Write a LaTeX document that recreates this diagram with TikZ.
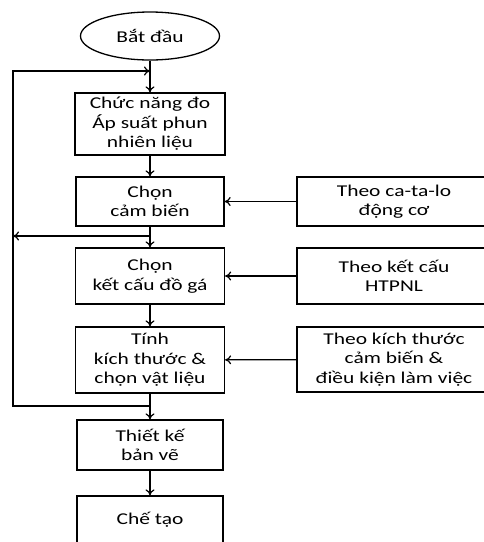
\documentclass[tikz,border=0pt]{standalone}
\usepackage{fontspec}
\setmainfont{Carlito}[FakeStretch=1.3]
\usepackage{tikz}
\usetikzlibrary{arrows.meta, positioning, shapes.geometric}

\tikzset{
  stepbox/.style={draw, rectangle, line width=1.3pt, align=center,
    inner sep=0pt, font=\fontsize{16.5}{19.5}\selectfont},
  arr/.style={-{To[length=6pt,width=9pt]}, line width=1.2pt},
}

\begin{document}
\begin{tikzpicture}[x=1pt, y=-1pt, line join=miter]
        \clip (0,0) rectangle (484,542);
        % main column
        \node[ellipse, draw, line width=1.3pt, minimum width=139pt, minimum height=48pt,
          inner sep=0pt, font=\fontsize{16.5}{19.5}\selectfont] (start) at (150,36) {Bắt đầu};
        \node[stepbox, minimum width=150pt, minimum height=62pt] (chucnang) at (150,124)
          {Chức năng đo\\Áp suất phun\\nhiên liệu};
        \node[stepbox, minimum width=148pt, minimum height=49pt] (camben) at (150,201.5)
          {Chọn\\cảm biến};
        \node[stepbox, minimum width=149pt, minimum height=56pt] (ketcau) at (150,276)
          {Chọn\\kết cấu đồ gá};
        \node[stepbox, minimum width=149pt, minimum height=66pt] (tinh) at (150,360)
          {Tính\\kích thước \&\\chọn vật liệu};
        \node[stepbox, minimum width=146pt, minimum height=50pt] (thietke) at (150,445)
          {Thiết kế\\bản vẽ};
        \node[stepbox, minimum width=146pt, minimum height=48pt] (chetao) at (150,520)
          {Chế tạo};
        % inputs on the right
        \node[stepbox, minimum width=194pt, minimum height=49pt] (catalo) at (394,201.5)
          {Theo ca-ta-lo\\động cơ};
        \node[stepbox, minimum width=194pt, minimum height=56pt] (htpnl) at (394,276)
          {Theo kết cấu\\HTPNL};
        \node[stepbox, minimum width=194pt, minimum height=65pt] (dieukien) at (394,359.5)
          {Theo kích thước\\cảm biến \&\\điều kiện làm việc};
        % feedback loop points
        \coordinate (jtop) at (150,71);
        \coordinate (ltop) at (13,71);
        \coordinate (jmid) at (150,236);
        \coordinate (lmid) at (13,236);
        \coordinate (jbot) at (150,406);
        \coordinate (lbot) at (13,406);
        % flow
        \draw[arr] (start) -- (chucnang);
        \draw[arr] (chucnang) -- (camben);
        \draw[arr] (camben) -- (ketcau);
        \draw[arr] (ketcau) -- (tinh);
        \draw[arr] (tinh) -- (thietke);
        \draw[arr] (thietke) -- (chetao);
        \draw[arr] (catalo) -- (camben);
        \draw[arr] (htpnl) -- (ketcau);
        \draw[arr] (dieukien) -- (tinh);
        % loop back
        \draw[arr] (jbot) -- (lbot) -- (ltop) -- (jtop);
        \draw[arr] (jmid) -- (lmid);
      \end{tikzpicture}
\end{document}
